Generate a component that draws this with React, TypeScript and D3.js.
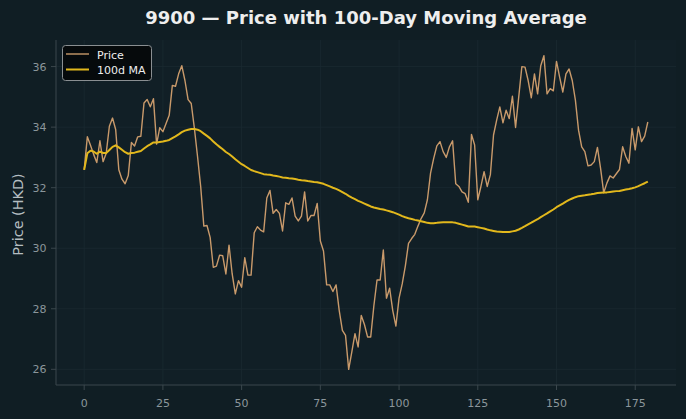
import React from "react";
import * as d3 from "d3";

const TITLE = "9900 — Price with 100-Day Moving Average";
const Y_LABEL = "Price (HKD)";
const SERIES_NAMES = ["Price", "100d MA"];
const X_TICKS = [0, 25, 50, 75, 100, 125, 150, 175];
const Y_TICKS = [26, 28, 30, 32, 34, 36];
const MA_WINDOW = 100;

const price: number[] = [
  32.59, 33.68, 33.4, 33.1, 32.83, 33.55, 32.86, 33.14, 34.03, 34.3,
  33.92, 32.59, 32.28, 32.13, 32.4, 33.49, 33.38, 33.68, 33.7, 34.8,
  34.91, 34.67, 34.94, 33.44, 33.98, 33.85, 34.12, 34.39, 35.38, 35.35,
  35.76, 36.03, 35.54, 34.91, 34.78, 33.96, 33.03, 32.04, 30.73, 30.75,
  30.36, 29.37, 29.41, 29.77, 29.75, 29.15, 30.1, 29.15, 28.49, 28.93,
  28.71, 29.69, 29.11, 29.11, 30.51, 30.71, 30.6, 30.54, 31.66, 31.91,
  31.15, 31.28, 31.15, 30.57, 31.5, 31.45, 31.66, 31.06, 30.9, 31.06,
  31.86, 30.9, 31.08, 31.08, 31.48, 30.24, 29.91, 28.79, 28.79, 28.57,
  28.79, 27.94, 27.29, 27.12, 26.0, 26.58, 27.18, 26.74, 27.78, 27.48,
  27.07, 27.07, 28.1, 28.95, 28.95, 29.94, 28.35, 28.68, 27.94, 27.43,
  28.35, 28.82, 29.42, 30.16, 30.32, 30.46, 30.73, 30.98, 31.17, 31.6,
  32.48, 32.97, 33.38, 33.52, 33.19, 33.0, 33.35, 33.55, 32.13, 32.04,
  31.86, 31.8, 31.52, 33.76, 33.41, 31.6, 32.04, 32.53, 32.04, 32.43,
  33.74, 34.23, 34.67, 34.14, 34.56, 34.28, 35.02, 33.99, 34.99, 36.0,
  35.98, 35.54, 34.97, 35.76, 35.1, 36.03, 36.36, 35.1, 35.27, 35.2,
  36.17, 35.65, 35.16, 35.76, 35.92, 35.54, 34.89, 33.9, 33.35, 33.19,
  32.72, 32.75, 32.86, 33.33, 32.64, 31.83, 32.15, 32.39, 32.32, 32.46,
  32.6, 33.35, 33.03, 32.81, 33.96, 33.25, 34.01, 33.52, 33.7, 34.17,
];

const days: number[] = price.map((_, i) => i);

// 100-day rolling mean of the price (min 1 observation)
const movingAvg: number[] = price.map((_, i) =>
  d3.mean(price.slice(Math.max(0, i - MA_WINDOW + 1), i + 1)) as number
);

const W = 686;
const H = 419;
const M = { left: 56, right: 676, top: 40, bottom: 385 };

const BG = "#101e24";
const AX_BG = "#111f26";
const GRID = "#1a2a31";
const SPINE = "#3b474d";
const TICK_TXT = "#8b969b";
const PRICE_C = "#c99a6b";
const MA_C = "#e2b81c";

export default function App() {
  const xMin = d3.min(days)!;
  const xMax = d3.max(days)!;
  const xPad = (xMax - xMin) * 0.05;
  const x = d3.scaleLinear().domain([xMin - xPad, xMax + xPad]).range([M.left, M.right]);

  const yMin = Math.min(d3.min(price)!, d3.min(movingAvg)!);
  const yMax = Math.max(d3.max(price)!, d3.max(movingAvg)!);
  const yPad = (yMax - yMin) * 0.05;
  const y = d3.scaleLinear().domain([yMin - yPad, yMax + yPad]).range([M.bottom, M.top]);

  const line = d3
    .line<number>()
    .x((_, i) => x(days[i]))
    .y((d) => y(d));

  const font = "'DejaVu Sans', sans-serif";

  return (
    <svg
      width={W}
      height={H}
      style={{ position: "absolute", left: 0, top: 0, display: "block" }}
      fontFamily={font}
    >
      <rect x={0} y={0} width={W} height={H} fill={BG} />
      <rect x={M.left} y={M.top} width={M.right - M.left} height={M.bottom - M.top} fill={AX_BG} />

      {/* grid */}
      {X_TICKS.map((t) => (
        <line key={"gx" + t} x1={x(t)} x2={x(t)} y1={M.top} y2={M.bottom} stroke={GRID} strokeWidth={0.8} />
      ))}
      {Y_TICKS.map((t) => (
        <line key={"gy" + t} x1={M.left} x2={M.right} y1={y(t)} y2={y(t)} stroke={GRID} strokeWidth={0.8} />
      ))}

      {/* spines */}
      <line x1={M.left} x2={M.left} y1={M.top} y2={M.bottom} stroke={SPINE} strokeWidth={1} />
      <line x1={M.left} x2={M.right} y1={M.bottom} y2={M.bottom} stroke={SPINE} strokeWidth={1} />

      {/* x ticks */}
      {X_TICKS.map((t) => (
        <g key={"xt" + t}>
          <line x1={x(t)} x2={x(t)} y1={M.bottom} y2={M.bottom + 5} stroke={SPINE} />
          <text x={x(t)} y={M.bottom + 21.5} textAnchor="middle" fontSize={11} fill={TICK_TXT}>
            {t}
          </text>
        </g>
      ))}
      {/* y ticks */}
      {Y_TICKS.map((t) => (
        <g key={"yt" + t}>
          <line x1={M.left - 5} x2={M.left} y1={y(t)} y2={y(t)} stroke={SPINE} />
          <text x={M.left - 9.5} y={y(t) + 4} textAnchor="end" fontSize={11} fill={TICK_TXT}>
            {t}
          </text>
        </g>
      ))}

      {/* lines */}
      <path d={line(price) ?? ""} fill="none" stroke={PRICE_C} strokeWidth={1.4} strokeLinejoin="round" />
      <path d={line(movingAvg) ?? ""} fill="none" stroke={MA_C} strokeWidth={2} strokeLinejoin="round" />

      {/* y label */}
      <text
        transform={`translate(22.5, ${(M.top + M.bottom) / 2 + 2}) rotate(-90)`}
        textAnchor="middle"
        fontSize={14.4}
        fill="#b4bdc1"
      >
        {Y_LABEL}
      </text>

      {/* title */}
      <text x={(M.left + M.right) / 2} y={24} textAnchor="middle" fontSize={18} fontWeight="bold" fill="#eeeeee">
        {TITLE}
      </text>

      {/* legend */}
      <g>
        <rect x={62.5} y={45.5} width={89} height={35} rx={3} fill="#060a0c" stroke="#8a8f92" strokeWidth={1} />
        <line x1={66} x2={89} y1={54} y2={54} stroke={PRICE_C} strokeWidth={1.4} />
        <text x={97} y={58.5} fontSize={11} fill="#eeeeee">
          {SERIES_NAMES[0]}
        </text>
        <line x1={66} x2={89} y1={69.5} y2={69.5} stroke={MA_C} strokeWidth={2} />
        <text x={97} y={74} fontSize={11} fill="#eeeeee">
          {SERIES_NAMES[1]}
        </text>
      </g>
    </svg>
  );
}
